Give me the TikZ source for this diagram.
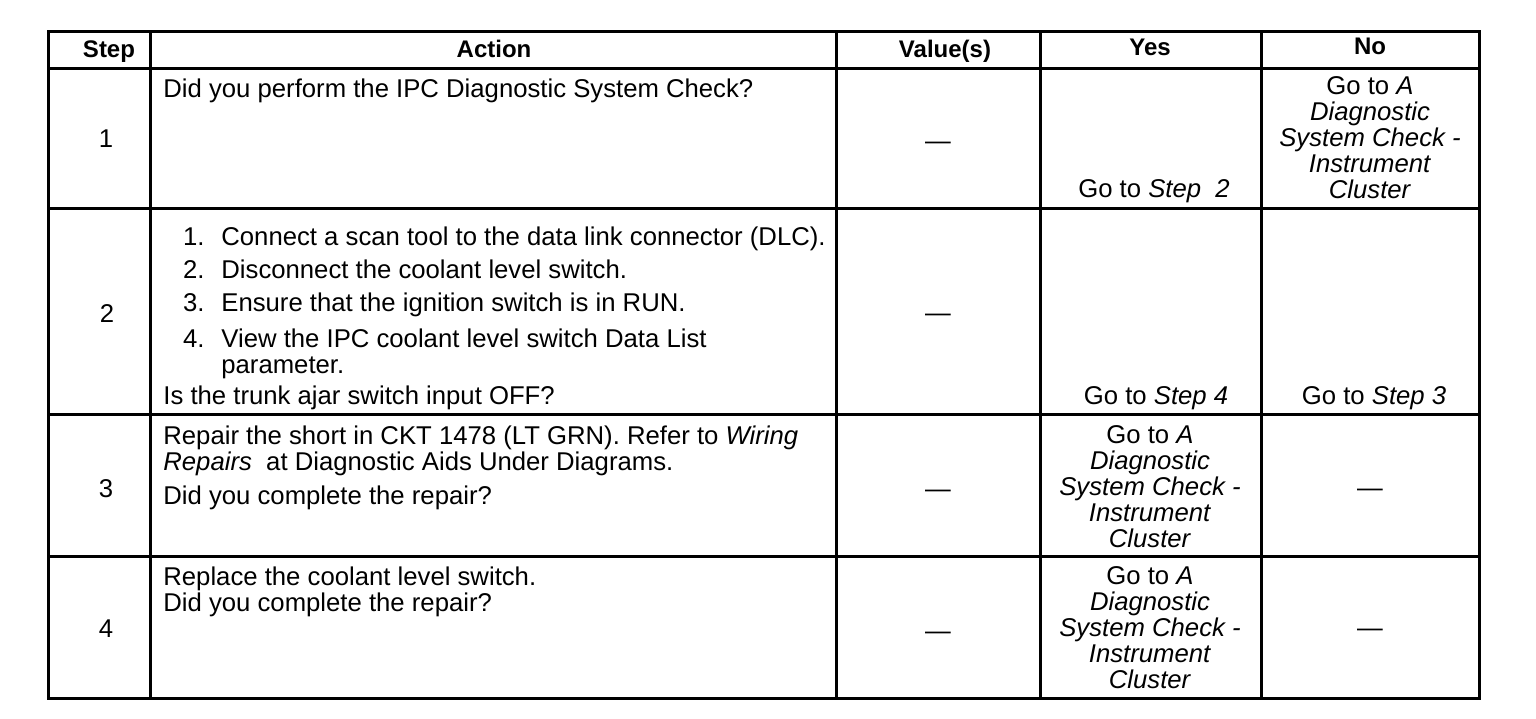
\documentclass[tikz,border=0pt]{standalone}
\usepackage{fontspec}
\setmainfont{Liberation Sans}
\usepackage{tikz}

\newcommand{\diagcheck}{Go to \textit{A}\\\textit{Diagnostic}\\\textit{System Check -}\\\textit{Instrument}\\\textit{Cluster}}

\tikzset{
  txt/.style={font=\fontsize{12.85}{13}\selectfont, inner sep=0pt, text height=9.3pt, text depth=2.7pt},
  hd/.style={font=\fontsize{12}{13}\selectfont\bfseries, inner sep=0pt, text height=8.8pt, text depth=2.5pt},
  cell/.style={font=\fontsize{12.85}{13}\selectfont, inner sep=0pt, align=center},
  rule/.style={line width=1.5pt},
}

\begin{document}
\begin{tikzpicture}[x=0.5pt,y=-0.5pt]
		\useasboundingbox (0,0) rectangle (1536,718);
		% grid
		\draw[rule] (48,31) rectangle (1479,698);
		\foreach \x in {150,836,1040,1261}
			\draw[rule] (\x,31) -- (\x,698);
		\foreach \y in {68,208,414,556}
			\draw[rule] (48,\y) -- (1479,\y);
		%
		\node[hd] (hStep) at (109,51) {Step};
		\node[hd] (hAction) at (494,51) {Action};
		\node[hd] (hValue) at (945,51) {Value(s)};
		\node[hd] (hYes) at (1150,49) {Yes};
		\node[hd] (hNo) at (1370,48) {No};
		%
		\node[txt] (s1) at (106,141) {1};
		\node[txt] (s2) at (107,316) {2};
		\node[txt] (s3) at (106,491) {3};
		\node[txt] (s4) at (106,631) {4};
		%
		\node[txt,anchor=west] (a1) at (163,91) {Did you perform the IPC Diagnostic System Check?};
		\foreach \n/\y/\t in {1/239/{Connect a scan tool to the data link connector (DLC).},
				2/272/{Disconnect the coolant level switch.},
				3/305/{Ensure that the ignition switch is in RUN.},
				4/341/{View the IPC coolant level switch Data List}}
		{
			\node[txt,anchor=east] (n\n) at (205,\y) {\n.};
			\node[txt,anchor=west] (i\n) at (221,\y) {\t};
		}
		\node[txt,anchor=west] (i4b) at (221,367) {parameter.};
		\node[txt,anchor=west] (a2) at (163,398) {Is the trunk ajar switch input OFF?};
		\node[txt,anchor=west] (a3a) at (163,438) {Repair the short in CKT 1478 (LT GRN). Refer to \textit{Wiring}};
		\node[txt,anchor=west] (a3b) at (163,464) {\textit{Repairs}\ \ at Diagnostic Aids Under Diagrams.};
		\node[txt,anchor=west] (a3c) at (163,498) {Did you complete the repair?};
		\node[txt,anchor=west] (a4a) at (163,579) {Replace the coolant level switch.};
		\node[txt,anchor=west] (a4b) at (163,605) {Did you complete the repair?};
		%
		\node[txt] (v1) at (938,143) {---};
		\node[txt] (v2) at (938,315) {---};
		\node[txt] (v3) at (938,491) {---};
		\node[txt] (v4) at (938,633) {---};
		%
		\node[txt] (y1) at (1154,191) {Go to \textit{Step\ \ 2}};
		\node[txt] (y2) at (1156,398) {Go to \textit{Step 4}};
		\node[cell] (y3) at (1150,487) {\diagcheck};
		\node[cell] (y4) at (1150,628) {\diagcheck};
		%
		\node[cell] (no1) at (1370,138) {\diagcheck};
		\node[txt] (no2) at (1374,398) {Go to \textit{Step 3}};
		\node[txt] (no3) at (1370,490) {---};
		\node[txt] (no4) at (1370,630) {---};
	\end{tikzpicture}
\end{document}
